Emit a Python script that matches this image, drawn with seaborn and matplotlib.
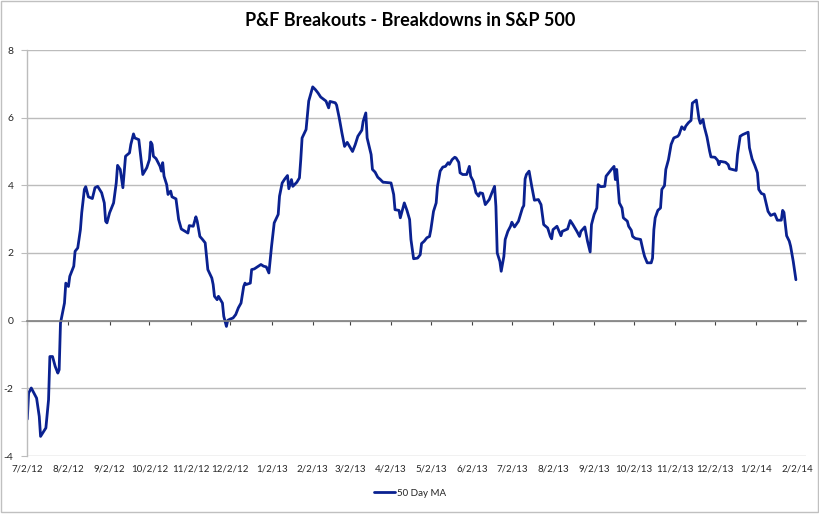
import matplotlib
matplotlib.use("Agg")
import matplotlib.pyplot as plt
import matplotlib.dates as mdates
from matplotlib.patches import Rectangle
from matplotlib.ticker import FuncFormatter
import pandas as pd
import seaborn as sns

# -----------------------------
# Data
# -----------------------------
start_date = "2012-07-02"

days = [
    0, 1, 3, 7, 9, 10, 14, 16, 17, 19, 21, 23, 24, 25, 26, 28, 29, 31, 32, 35,
    36, 38, 40, 41, 43, 44, 46, 49, 51, 53, 56, 58, 59, 60, 62, 65, 67, 68, 70, 72,
    74, 77, 78, 80, 81, 84, 87, 90, 92, 93, 94, 95, 97, 100, 101, 102, 103, 105, 106, 108,
    109, 112, 114, 116, 119, 121, 122, 125, 127, 128, 130, 132, 134, 136, 139, 140, 141, 143, 144, 147,
    148, 150, 151, 153, 155, 157, 159, 161, 163, 164, 165, 168, 169, 171, 174, 176, 178, 180, 182, 184,
    186, 189, 190, 192, 194, 196, 197, 199, 200, 203, 205, 206, 207, 210, 212, 215, 217, 219, 221, 223,
    225, 227, 228, 232, 233, 235, 237, 239, 241, 245, 247, 249, 252, 253, 255, 256, 259, 260, 262, 264,
    266, 268, 269, 274, 276, 277, 280, 281, 284, 286, 288, 289, 291, 294, 296, 297, 299, 301, 303, 304,
    306, 308, 309, 311, 313, 315, 317, 318, 320, 322, 323, 325, 326, 328, 331, 333, 334, 336, 338, 340,
    341, 343, 345, 348, 350, 352, 353, 354, 356, 357, 359, 360, 362, 364, 365, 367, 370, 371, 373, 374,
    375, 376, 378, 380, 382, 385, 387, 389, 392, 394, 395, 396, 399, 402, 403, 407, 409, 411, 414, 416,
    417, 420, 422, 424, 425, 427, 429, 430, 432, 435, 436, 438, 440, 442, 443, 444, 446, 448, 449, 452,
    453, 455, 456, 458, 462, 464, 465, 467, 470, 471, 472, 473, 475, 477, 478, 480, 481, 483, 485, 487,
    490, 491, 493, 495, 496, 498, 500, 501, 503, 504, 506, 507, 509, 510, 512, 514, 515, 518, 520, 521,
    522, 526, 528, 529, 534, 535, 537, 539, 542, 543, 544, 546, 548, 550, 551, 553, 555, 557, 558, 560,
    563, 565, 568, 569, 570, 572, 574, 575, 577, 579,
]

ma_50 = [
    -2.91, -2.14, -1.99, -2.29, -2.83, -3.42, -3.17, -2.34, -1.06, -1.06, -1.35, -1.55, -1.45, -0.07, 0.13, 0.52, 1.11, 1.01, 1.31, 1.61,
    2.05, 2.15, 2.69, 3.19, 3.88, 3.96, 3.66, 3.61, 3.93, 3.97, 3.78, 3.48, 2.94, 2.89, 3.19, 3.48, 4.07, 4.59, 4.47, 3.93,
    4.86, 4.96, 5.21, 5.52, 5.40, 5.35, 4.32, 4.52, 4.76, 5.28, 5.21, 4.86, 4.79, 4.56, 4.42, 4.67, 4.27, 4.02, 3.73, 3.83,
    3.66, 3.60, 2.99, 2.71, 2.64, 2.59, 2.81, 2.79, 3.07, 2.94, 2.49, 2.40, 2.30, 1.51, 1.26, 1.07, 0.72, 0.62, 0.72, 0.52,
    0.13, -0.17, 0.01, 0.05, 0.08, 0.18, 0.38, 0.52, 1.01, 1.11, 1.07, 1.11, 1.51, 1.53, 1.61, 1.66, 1.61, 1.59, 1.41, 2.20,
    2.89, 3.14, 3.68, 4.07, 4.19, 4.29, 3.90, 4.17, 3.97, 4.09, 4.22, 4.76, 5.40, 5.65, 6.49, 6.91, 6.83, 6.73, 6.61, 6.55,
    6.49, 6.29, 6.48, 6.44, 6.37, 5.99, 5.55, 5.15, 5.27, 5.00, 5.20, 5.45, 5.63, 5.89, 6.14, 5.40, 4.91, 4.47, 4.39, 4.24,
    4.17, 4.09, 4.09, 4.07, 3.73, 3.28, 3.26, 3.04, 3.48, 3.26, 2.99, 2.40, 1.83, 1.85, 1.95, 2.28, 2.35, 2.45, 2.49, 2.69,
    3.23, 3.48, 3.97, 4.42, 4.54, 4.56, 4.67, 4.62, 4.76, 4.83, 4.81, 4.68, 4.37, 4.32, 4.32, 4.56, 4.27, 4.12, 3.78, 3.68,
    3.78, 3.76, 3.43, 3.58, 3.78, 3.97, 3.38, 2.00, 1.75, 1.46, 1.90, 2.40, 2.64, 2.79, 2.91, 2.77, 2.94, 3.07, 3.33, 3.40,
    4.19, 4.32, 4.42, 3.97, 3.56, 3.58, 3.43, 2.84, 2.74, 2.49, 2.42, 2.69, 2.79, 2.51, 2.64, 2.71, 2.96, 2.84, 2.64, 2.49,
    2.64, 2.77, 2.35, 2.03, 2.84, 3.14, 3.33, 4.02, 3.96, 3.97, 4.27, 4.37, 4.47, 4.56, 4.17, 4.47, 3.48, 3.33, 3.04, 2.94,
    2.79, 2.67, 2.49, 2.43, 2.40, 2.05, 1.90, 1.71, 1.71, 1.85, 2.69, 3.04, 3.26, 3.33, 3.88, 3.99, 4.47, 4.76, 5.21, 5.40,
    5.45, 5.50, 5.73, 5.65, 5.75, 5.85, 5.92, 6.43, 6.49, 6.52, 5.96, 5.83, 5.95, 5.73, 5.43, 5.01, 4.84, 4.83, 4.74, 4.61,
    4.71, 4.68, 4.61, 4.49, 4.44, 4.91, 5.45, 5.50, 5.55, 5.57, 5.11, 4.78, 4.59, 4.37, 3.88, 3.76, 3.73, 3.40, 3.23, 3.11,
    3.16, 2.97, 2.97, 3.26, 3.20, 2.51, 2.35, 2.20, 1.75, 1.21,
]

y_ticks = [-4, -2, 0, 2, 4, 6, 8]
title = "P&F Breakouts - Breakdowns in S&P 500"
series_name = "50 Day MA"

df = pd.DataFrame({
    "date": pd.to_datetime(start_date) + pd.to_timedelta(days, unit="D"),
    "value": ma_50,
})

tick_dates = pd.date_range("2012-07-01", "2014-02-01", freq="MS") + pd.Timedelta(days=1)

# -----------------------------
# Style
# -----------------------------
sns.set_style("white")
plt.rcParams["font.family"] = ["Lato", "DejaVu Sans"]
plt.rcParams["axes.unicode_minus"] = False

fig = plt.figure(figsize=(8.2, 5.14), dpi=100)
ax = fig.add_axes([27.3 / 820, 1 - 456 / 514, (806 - 27.3) / 820, (456 - 50) / 514])

sns.lineplot(
    data=df,
    x="date",
    y="value",
    ax=ax,
    color="#0a2190",
    linewidth=2.0,
    label=series_name,
)

# -----------------------------
# Axes
# -----------------------------
ax.set_ylim(-4, 8)
ax.set_yticks(y_ticks)
ax.set_xlim(pd.Timestamp("2012-07-02"), pd.Timestamp("2012-07-02") + pd.Timedelta(days=586.6))
ax.set_xlabel("")
ax.set_ylabel("")

ax.yaxis.grid(True, color="#bcbcbc", linewidth=1.0)
ax.set_axisbelow(True)

for side in ["top", "right"]:
    ax.spines[side].set_visible(False)
ax.spines["left"].set_color("#bcbcbc")
ax.spines["left"].set_linewidth(1.0)
ax.spines["bottom"].set_position(("data", 0))
ax.spines["bottom"].set_color("#808080")
ax.spines["bottom"].set_linewidth(1.2)

ax.tick_params(axis="y", direction="out", length=4, width=0.8, color="#bcbcbc",
               labelsize=7.5, pad=6, left=True)
ax.set_xticks(tick_dates)
ax.tick_params(axis="x", direction="out", length=3, width=0.8, color="#404040",
               bottom=True, labelbottom=False)

date_fmt = FuncFormatter(
    lambda v, pos: f"{mdates.num2date(v).month}/{mdates.num2date(v).day}/{mdates.num2date(v).year % 100}"
)
sec = ax.secondary_xaxis("bottom")
sec.set_xticks(tick_dates)
sec.xaxis.set_major_formatter(date_fmt)
sec.tick_params(length=0, labelsize=7, pad=6)
sec.spines["bottom"].set_visible(False)

# -----------------------------
# Title, legend, border
# -----------------------------
fig.text(0.5, 1 - 20 / 514, title, ha="center", va="center",
         fontsize=13, fontweight="bold", color="#000000")

ax.get_legend().remove()
handles, labels = ax.get_legend_handles_labels()
fig.legend(handles, labels, loc="center", bbox_to_anchor=(0.5, 1 - 493 / 514),
           frameon=False, fontsize=7, handlelength=2.2, handletextpad=0.2)

fig.patches.append(Rectangle((0.001, 0.003), 0.997, 0.995, transform=fig.transFigure,
                             fill=False, edgecolor="#c0c0c0", linewidth=1.0))

plt.savefig("out.png", dpi=100)
plt.close()
